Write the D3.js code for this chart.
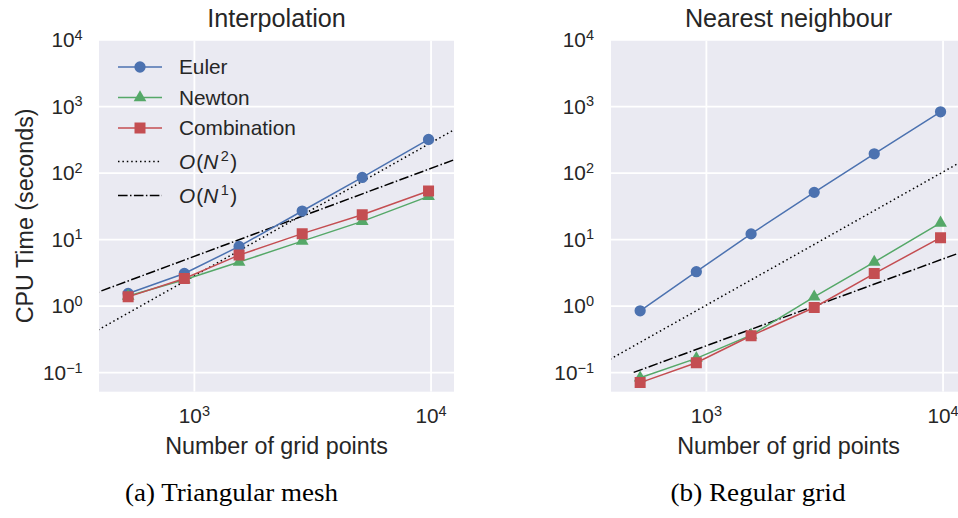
<!DOCTYPE html>
<html>
<head>
<meta charset="utf-8">
<script src="https://cdn.jsdelivr.net/npm/d3@7/dist/d3.min.js"></script>
<style>
  html, body { margin: 0; padding: 0; background: #fff; }
  svg { display: block; }
</style>
</head>
<body>
<svg id="chart" width="958" height="518"></svg>
<script>
// ---------------- data ----------------
const gridPoints = [525, 907, 1545, 2855, 5120, 9760];

const interpEuler       = [1.55, 3.1, 7.9, 26.9, 86, 320];
const interpNewton      = [1.42, 2.5, 4.6, 9.5, 18.8, 44.7];
const interpCombination = [1.38, 2.6, 5.85, 12.3, 23.7, 53.7];

const nnEuler       = [0.85, 3.3, 12.2, 51.3, 195, 832];
const nnNewton      = [0.084, 0.164, 0.367, 1.38, 4.6, 17.8];
const nnCombination = [0.071, 0.141, 0.359, 0.955, 3.09, 10.7];

// reference slopes (end points)
const refN            = [350, 14000];
const interpQuadratic = [0.35, 560];
const interpLinear    = [1.40, 184];
const nnQuadratic     = [0.127, 204];
const nnLinearN       = [493, 14000];
const nnLinear        = [0.101, 7.96];

const xTicks = [1e3, 1e4];
const xTickExp = ["3", "4"];
const yTicks = [1e-1, 1e0, 1e1, 1e2, 1e3, 1e4];
const yTickExp = ["\u22121", "0", "1", "2", "3", "4"];

const seriesNames = ["Euler", "Newton", "Combination"];
const titles = ["Interpolation", "Nearest neighbour"];
const captions = ["(a) Triangular mesh", "(b) Regular grid"];

// ---------------- style ----------------
const colors = { Euler: "#4C72B0", Newton: "#55A868", Combination: "#C44E52" };
const symbols = { Euler: d3.symbolCircle, Newton: d3.symbolTriangle, Combination: d3.symbolSquare };
const symbolSizes = { Euler: 100, Newton: 70, Combination: 121 };
const SANS = "'Liberation Sans', Arial, sans-serif";
const SERIF = "'Liberation Serif', 'DejaVu Serif', serif";
const BG = "#EAEAF2";
const dotted = "1.5,2.9";
const dashDot = "9.6,2.4,1.5,2.4";

const svg = d3.select("#chart");

const panels = [
  { left: 99, right: 454, tickRight: 82.7, capX: 231.5,
    series: { Euler: interpEuler, Newton: interpNewton, Combination: interpCombination },
    refs: [ { n: refN, v: interpQuadratic, dash: dotted }, { n: refN, v: interpLinear, dash: dashDot } ],
    legend: true, ylabel: true },
  { left: 611, right: 966, tickRight: 594, capX: 758,
    series: { Euler: nnEuler, Newton: nnNewton, Combination: nnCombination },
    refs: [ { n: refN, v: nnQuadratic, dash: dotted }, { n: nnLinearN, v: nnLinear, dash: dashDot } ],
    legend: false, ylabel: false }
];

const TOP = 40, BOTTOM = 391.7;

panels.forEach((p, i) => {
  const x = d3.scaleLog().domain([Math.pow(10, 2.597), Math.pow(10, 4.097)]).range([p.left, p.right]);
  const y = d3.scaleLog().domain([Math.pow(10, -1.2855), 1e4]).range([BOTTOM, TOP]);

  const g = svg.append("g");
  const clipId = "clip" + i;
  svg.append("defs").append("clipPath").attr("id", clipId)
    .append("rect").attr("x", p.left).attr("y", TOP + 0.7).attr("width", p.right - p.left).attr("height", BOTTOM - TOP - 0.7);

  // background
  g.append("rect").attr("x", p.left).attr("y", TOP + 0.7).attr("width", p.right - p.left)
    .attr("height", BOTTOM - TOP - 0.7).attr("fill", BG);

  // grid
  const grid = g.append("g").attr("clip-path", `url(#${clipId})`);
  grid.selectAll("line.gx").data(xTicks).join("line")
    .attr("x1", d => x(d)).attr("x2", d => x(d)).attr("y1", TOP).attr("y2", BOTTOM)
    .attr("stroke", "#fff").attr("stroke-width", 1.8);
  grid.selectAll("line.gy").data(yTicks).join("line")
    .attr("y1", d => y(d)).attr("y2", d => y(d)).attr("x1", p.left).attr("x2", p.right)
    .attr("stroke", "#fff").attr("stroke-width", 1.8);

  // x tick labels
  const xt = g.selectAll("text.xt").data(xTicks).join("text")
    .attr("x", d => x(d)).attr("y", 423).attr("text-anchor", "middle")
    .attr("font-family", SANS).attr("font-size", 20.8).attr("fill", "#262626");
  xt.append("tspan").text("10");
  xt.append("tspan").attr("dy", -7.5).attr("font-size", 14.5).text((d, j) => xTickExp[j]);

  // y tick labels
  const yt = g.selectAll("text.yt").data(yTicks).join("text")
    .attr("x", p.tickRight).attr("y", d => y(d) + 7.3).attr("text-anchor", "end")
    .attr("font-family", SANS).attr("font-size", 20.8).attr("fill", "#262626");
  yt.append("tspan").text("10");
  yt.append("tspan").attr("dy", -7.5).attr("font-size", 14.5).text((d, j) => yTickExp[j]);

  // reference lines
  const line = d3.line().x(d => x(d[0])).y(d => y(d[1]));
  const plot = g.append("g").attr("clip-path", `url(#${clipId})`);
  p.refs.forEach(r => {
    plot.append("path").datum(r.n.map((n, k) => [n, r.v[k]]))
      .attr("d", line).attr("fill", "none").attr("stroke", "#000")
      .attr("stroke-width", 1.5).attr("stroke-dasharray", r.dash);
  });

  // series
  seriesNames.forEach(name => {
    const pts = gridPoints.map((n, k) => [n, p.series[name][k]]);
    plot.append("path").datum(pts).attr("d", line).attr("fill", "none")
      .attr("stroke", colors[name]).attr("stroke-width", 1.5);
    plot.selectAll(null).data(pts).join("path")
      .attr("transform", d => `translate(${x(d[0])},${y(d[1])})`)
      .attr("d", d3.symbol().type(symbols[name]).size(symbolSizes[name]))
      .attr("fill", colors[name]);
  });

  // title
  g.append("text").attr("x", (p.left + p.right) / 2).attr("y", 27.3).attr("text-anchor", "middle")
    .attr("font-family", SANS).attr("font-size", 25.2).attr("fill", "#262626").text(titles[i]);
  // x label
  g.append("text").attr("x", (p.left + p.right) / 2).attr("y", 454).attr("text-anchor", "middle")
    .attr("font-family", SANS).attr("font-size", 23.3).attr("fill", "#262626").text("Number of grid points");
  // caption
  g.append("text").attr("x", p.capX).attr("y", 500.7).attr("text-anchor", "middle")
    .attr("font-family", SERIF).attr("font-size", 24.5).attr("fill", "#000")
    .attr("textLength", i === 0 ? 213 : 175).attr("lengthAdjust", "spacingAndGlyphs")
    .text(captions[i]);

  if (p.ylabel) {
    g.append("text").attr("transform", `translate(33,${(TOP + BOTTOM) / 2}) rotate(-90)`)
      .attr("text-anchor", "middle").attr("font-family", SANS).attr("font-size", 23.3)
      .attr("fill", "#262626").text("CPU Time (seconds)");
  }

  if (p.legend) {
    const rowsY = [67, 97.5, 128, 161.5, 195.5];
    const lg = g.append("g");
    seriesNames.forEach((name, k) => {
      const ry = rowsY[k];
      lg.append("line").attr("x1", 118).attr("x2", 162).attr("y1", ry).attr("y2", ry)
        .attr("stroke", colors[name]).attr("stroke-width", 1.5);
      lg.append("path").attr("transform", `translate(140,${ry})`)
        .attr("d", d3.symbol().type(symbols[name]).size(symbolSizes[name])).attr("fill", colors[name]);
      lg.append("text").attr("x", 179).attr("y", ry + 7.3).attr("font-family", SANS)
        .attr("font-size", 20.8).attr("fill", "#262626").text(name);
    });
    const refLabels = [["2", dotted], ["1", dashDot]];
    refLabels.forEach((rl, k) => {
      const ry = rowsY[3 + k];
      lg.append("line").attr("x1", 118).attr("x2", 162).attr("y1", ry).attr("y2", ry)
        .attr("stroke", "#000").attr("stroke-width", 1.5).attr("stroke-dasharray", rl[1]);
      const t = lg.append("text").attr("x", 179).attr("y", ry + 7.3).attr("font-family", SANS)
        .attr("font-size", 20.8).attr("fill", "#262626");
      t.append("tspan").attr("font-style", "italic").text("O");
      t.append("tspan").attr("dx", 1).text("(");
      t.append("tspan").attr("font-style", "italic").text("N");
      t.append("tspan").attr("dx", 2.5).attr("dy", -8).attr("font-size", 14.5).text(rl[0]);
      t.append("tspan").attr("dx", 1.5).attr("dy", 8).text(")");
    });
  }
});
</script>
</body>
</html>
